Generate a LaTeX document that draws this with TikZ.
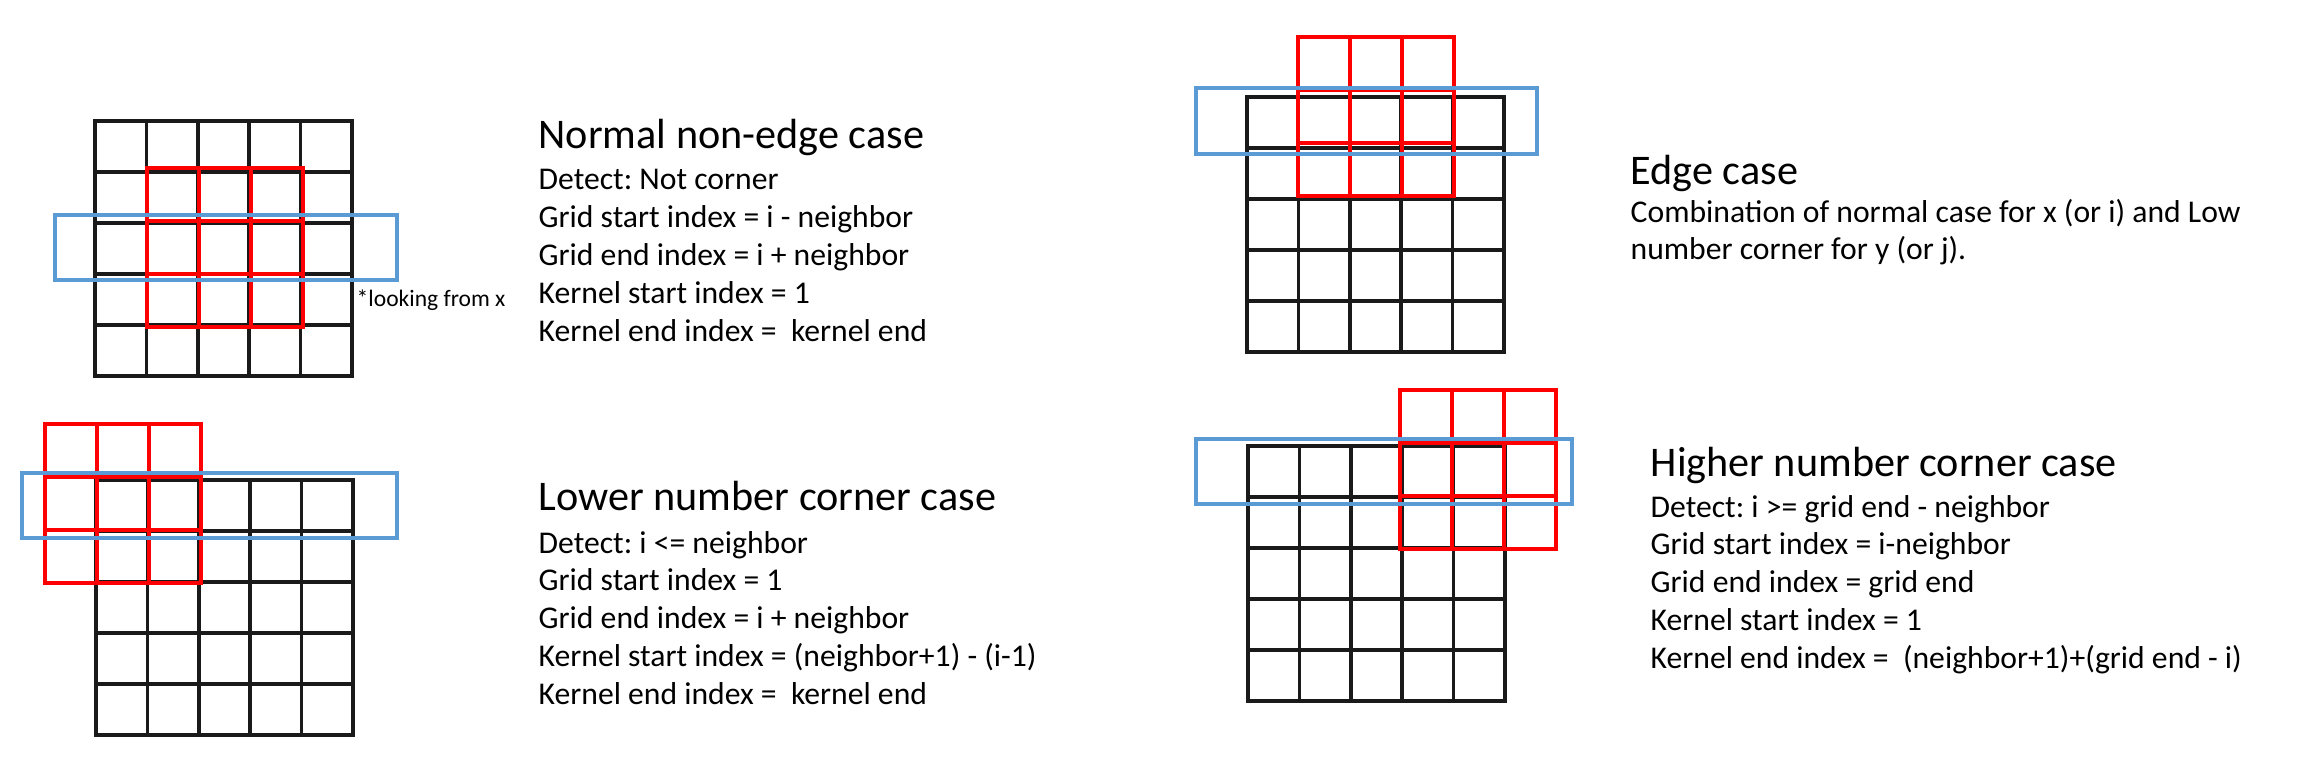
\documentclass[tikz,border=0pt]{standalone}
\usepackage{fontspec}
\setmainfont{Carlito}
\usepackage{xcolor}
\usetikzlibrary{positioning}
\definecolor{scanblue}{RGB}{91,155,213}
\definecolor{gridblack}{RGB}{26,26,26}
\frenchspacing
\tikzset{
  cell/.style={draw=gridblack, line width=1pt},
  kernel/.style={draw=red, line width=1.15pt},
  scan/.style={draw=scanblue, line width=0.95pt},
  casetitle/.style={anchor=base west, inner sep=0pt, font=\fontsize{12}{14}\selectfont},
  casebody/.style={anchor=base west, inner sep=0pt, font=\fontsize{9}{10.78}\selectfont},
  casenote/.style={anchor=base west, inner sep=0pt, font=\fontsize{6.7}{8}\selectfont}
}

\begin{document}
\begin{tikzpicture}[x=0.01cm, y=-0.01cm]
        \useasboundingbox (0,0) rectangle (2300,782);
        % Normal non-edge case (top left)
        \foreach \x in {0,...,4} {
            \foreach \y in {0,...,4} {
                \draw[cell] (95+\x*51.4,121+\y*51) rectangle ++(51.4,51);
            }
        }
        \foreach \x in {0,1,2} {
            \foreach \y in {0,1,2} {
                \draw[kernel] (147+\x*52,168+\y*53) rectangle ++(52,53);
            }
        }
        \draw[scan] (55,215) rectangle (397,280);
        \node[casenote] (lookx) at (356,306) {*looking from x};
        \node[casetitle] (normaltitle) at (538,148.5) {Normal non-edge case};
        \node[casebody] (normalbody) at (538,190) {\begin{tabular}[t]{@{}l@{}}
            Detect: Not corner\\
            Grid start index = i - neighbor\\
            Grid end index = i + neighbor\\
            Kernel start index = 1\\
            Kernel end index = \ kernel end
        \end{tabular}};

        % Lower number corner case (bottom left)
        \foreach \x in {0,...,4} {
            \foreach \y in {0,...,4} {
                \draw[cell] (96+\x*51.4,480+\y*51) rectangle ++(51.4,51);
            }
        }
        \foreach \x in {0,1,2} {
            \foreach \y in {0,1,2} {
                \draw[kernel] (45+\x*52,424+\y*53) rectangle ++(52,53);
            }
        }
        \draw[scan] (22,473) rectangle (397,538);
        \node[casetitle] (lowertitle) at (538,510.5) {Lower number corner case};
        \node[casebody] (lowerbody) at (538,553) {\begin{tabular}[t]{@{}l@{}}
            Detect: i <= neighbor\\
            Grid start index = 1\\
            Grid end index = i + neighbor\\
            Kernel start index = (neighbor+1) - (i-1)\\
            Kernel end index = \ kernel end
        \end{tabular}};

        % Edge case (top right)
        \foreach \x in {0,...,4} {
            \foreach \y in {0,...,4} {
                \draw[cell] (1247+\x*51.4,97+\y*51) rectangle ++(51.4,51);
            }
        }
        \foreach \x in {0,1,2} {
            \foreach \y in {0,1,2} {
                \draw[kernel] (1298+\x*52,37+\y*53) rectangle ++(52,53);
            }
        }
        \draw[scan] (1196,88) rectangle (1537,154);
        \node[casetitle] (edgetitle) at (1630,185) {Edge case};
        \node[casebody] (edgebody) at (1630,222) {\begin{tabular}[t]{@{}l@{}}
            Combination of normal case for x (or i) and Low\\
            number corner for y (or j).
        \end{tabular}};

        % Higher number corner case (bottom right)
        \foreach \x in {0,...,4} {
            \foreach \y in {0,...,4} {
                \draw[cell] (1248+\x*51.4,446+\y*51) rectangle ++(51.4,51);
            }
        }
        \foreach \x in {0,1,2} {
            \foreach \y in {0,1,2} {
                \draw[kernel] (1400+\x*52,390+\y*53) rectangle ++(52,53);
            }
        }
        \draw[scan] (1196,439) rectangle (1572,504);
        \node[casetitle] (highertitle) at (1650,476) {Higher number corner case};
        \node[casebody] (higherbody) at (1650,517) {\begin{tabular}[t]{@{}l@{}}
            Detect: i >= grid end - neighbor\\
            Grid start index = i-neighbor\\
            Grid end index = grid end\\
            Kernel start index = 1\\
            Kernel end index = \ (neighbor+1)+(grid end - i)
        \end{tabular}};
    \end{tikzpicture}
\end{document}
